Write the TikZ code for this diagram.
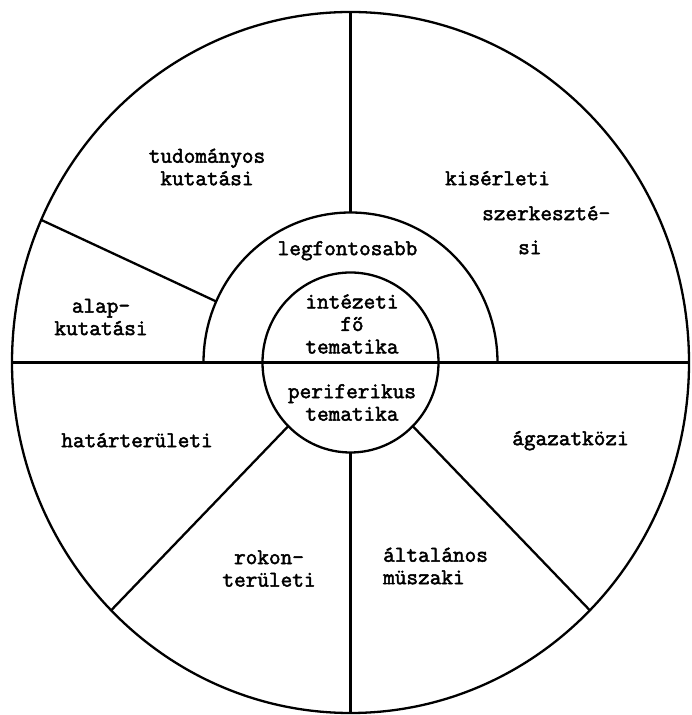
\documentclass[tikz,border=0pt]{standalone}
\usepackage{fontspec}
\newfontfamily\typer[FakeBold=2.2]{Latin Modern Mono}
\usepackage{tikz}

\begin{document}
\begin{tikzpicture}[x=1pt,y=1pt]
\tikzstyle{every node}=[font=\typer\fontsize{22.6}{22.5}\selectfont,inner sep=0pt,align=center];
\tikzstyle{rule}=[line width=2.3pt];
\useasboundingbox[fill=white] (0,0) rectangle (691,715);
\coordinate (o) at (350.5,352.5);
% rims of the three rings
\foreach \a in {0,90,156,180,225,270,315} {
	\coordinate (rim\a) at ([shift={(\a:338.5 and 350.5)}]o);
	\coordinate (half\a) at ([shift={(\a:147 and 150)}]o);
	\coordinate (core\a) at ([shift={(\a:88 and 90)}]o);
}
\draw[rule] (o) ellipse (338.5 and 350.5);
\draw[rule] (o) ellipse (88 and 90);
\draw[rule] (half0) arc[start angle=0,end angle=180,x radius=147,y radius=150];
% dividing lines
\draw[rule] (rim180) -- (rim0);
\draw[rule] (half90) -- (rim90);
\draw[rule] (half156) -- (rim156);
\foreach \a in {225,270,315} \draw[rule] (core\a) -- (rim\a);
% labels
\node (tud) at (207,548) {tudományos\\kutatási};
\node[anchor=mid west] (kis) at (445,532) {kisérleti};
\node[anchor=mid west] (szerk) at (482,497) {szerkeszté-};
\node[anchor=mid west] (si) at (518,463) {si};
\node[anchor=mid] (legf) at (347.5,462) {legfontosabb};
\node (fo) at (352,391) {intézeti\\fő\\tematika};
\node (peri) at (352,312.5) {periferikus\\tematika};
\node (alap) at (101,398) {alap-\\kutatási};
\node[anchor=mid] (hatar) at (137,270) {határterületi};
\node[anchor=mid] (agazat) at (570.5,272) {ágazatközi};
\node (rokon) at (269,146.5) {rokon-\\területi};
\node[align=left,anchor=west] (altal) at (383,149) {általános\\müszaki};
\end{tikzpicture}
\end{document}
